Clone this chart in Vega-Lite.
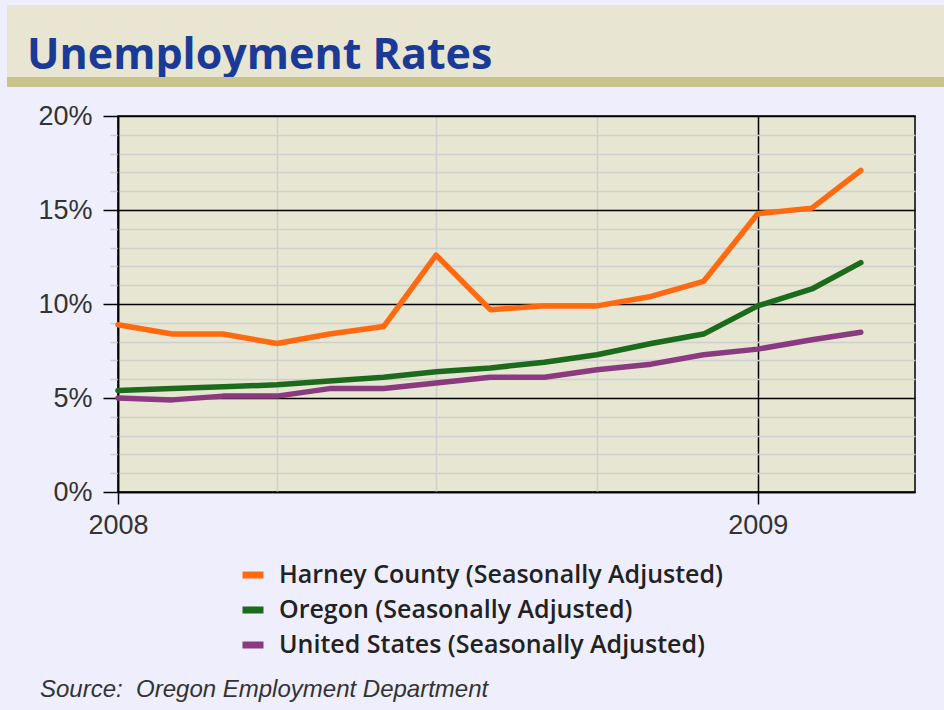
{
  "$schema": "https://vega.github.io/schema/vega-lite/v6.json",
  "background": "#eeeefc",
  "padding": {"left": 7, "top": 5, "right": 0, "bottom": 12},
  "title": {
    "text": "Source:\u00a0 Oregon Employment Department",
    "orient": "bottom",
    "anchor": "start",
    "frame": "bounds",
    "font": "Liberation Sans",
    "fontStyle": "italic",
    "fontWeight": "normal",
    "fontSize": 24,
    "color": "#333333",
    "dx": 33,
    "offset": 19
  },
  "bounds": "flush",
  "spacing": 0,
  "vconcat": [
    {
      "data": {"values": []},
      "mark": "point",
      "width": 937,
      "height": 72,
      "view": {"fill": "#e8e6d3", "stroke": null},
      "title": {
        "text": "Unemployment Rates",
        "anchor": "start",
        "frame": "group",
        "font": "Open Sans",
        "fontWeight": "bold",
        "fontSize": 43,
        "color": "#1a3a96",
        "baseline": "alphabetic",
        "offset": 0,
        "dx": 20,
        "dy": 107
      }
    },
    {
      "data": {"values": []},
      "mark": "point",
      "width": 937,
      "height": 10,
      "view": {"fill": "#c8c48c", "stroke": null}
    },
    {
      "data": {"values": []},
      "mark": "point",
      "width": 937,
      "height": 29,
      "view": {"fill": null, "stroke": null}
    },
    {
      "spacing": 0,
      "bounds": "flush",
      "hconcat": [
        {
          "data": {"values": []},
          "mark": "point",
          "width": 111,
          "height": 376,
          "view": {"fill": null, "stroke": null}
        },
        {
          "width": 797,
          "height": 376,
          "view": {"fill": "#e6e6d2", "stroke": "#000000", "strokeWidth": 1.5},
          "data": {
            "values": [
              {"date": "2008-01-01", "series": "United States (Seasonally Adjusted)", "rate": 5.0},
              {"date": "2008-02-01", "series": "United States (Seasonally Adjusted)", "rate": 4.9},
              {"date": "2008-03-01", "series": "United States (Seasonally Adjusted)", "rate": 5.1},
              {"date": "2008-04-01", "series": "United States (Seasonally Adjusted)", "rate": 5.1},
              {"date": "2008-05-01", "series": "United States (Seasonally Adjusted)", "rate": 5.5},
              {"date": "2008-06-01", "series": "United States (Seasonally Adjusted)", "rate": 5.5},
              {"date": "2008-07-01", "series": "United States (Seasonally Adjusted)", "rate": 5.8},
              {"date": "2008-08-01", "series": "United States (Seasonally Adjusted)", "rate": 6.1},
              {"date": "2008-09-01", "series": "United States (Seasonally Adjusted)", "rate": 6.1},
              {"date": "2008-10-01", "series": "United States (Seasonally Adjusted)", "rate": 6.5},
              {"date": "2008-11-01", "series": "United States (Seasonally Adjusted)", "rate": 6.8},
              {"date": "2008-12-01", "series": "United States (Seasonally Adjusted)", "rate": 7.3},
              {"date": "2009-01-01", "series": "United States (Seasonally Adjusted)", "rate": 7.6},
              {"date": "2009-02-01", "series": "United States (Seasonally Adjusted)", "rate": 8.1},
              {"date": "2009-03-01", "series": "United States (Seasonally Adjusted)", "rate": 8.5},
              {"date": "2008-01-01", "series": "Oregon (Seasonally Adjusted)", "rate": 5.4},
              {"date": "2008-02-01", "series": "Oregon (Seasonally Adjusted)", "rate": 5.5},
              {"date": "2008-03-01", "series": "Oregon (Seasonally Adjusted)", "rate": 5.6},
              {"date": "2008-04-01", "series": "Oregon (Seasonally Adjusted)", "rate": 5.7},
              {"date": "2008-05-01", "series": "Oregon (Seasonally Adjusted)", "rate": 5.9},
              {"date": "2008-06-01", "series": "Oregon (Seasonally Adjusted)", "rate": 6.1},
              {"date": "2008-07-01", "series": "Oregon (Seasonally Adjusted)", "rate": 6.4},
              {"date": "2008-08-01", "series": "Oregon (Seasonally Adjusted)", "rate": 6.6},
              {"date": "2008-09-01", "series": "Oregon (Seasonally Adjusted)", "rate": 6.9},
              {"date": "2008-10-01", "series": "Oregon (Seasonally Adjusted)", "rate": 7.3},
              {"date": "2008-11-01", "series": "Oregon (Seasonally Adjusted)", "rate": 7.9},
              {"date": "2008-12-01", "series": "Oregon (Seasonally Adjusted)", "rate": 8.4},
              {"date": "2009-01-01", "series": "Oregon (Seasonally Adjusted)", "rate": 9.9},
              {"date": "2009-02-01", "series": "Oregon (Seasonally Adjusted)", "rate": 10.8},
              {"date": "2009-03-01", "series": "Oregon (Seasonally Adjusted)", "rate": 12.2},
              {"date": "2008-01-01", "series": "Harney County (Seasonally Adjusted)", "rate": 8.9},
              {"date": "2008-02-01", "series": "Harney County (Seasonally Adjusted)", "rate": 8.4},
              {"date": "2008-03-01", "series": "Harney County (Seasonally Adjusted)", "rate": 8.4},
              {"date": "2008-04-01", "series": "Harney County (Seasonally Adjusted)", "rate": 7.9},
              {"date": "2008-05-01", "series": "Harney County (Seasonally Adjusted)", "rate": 8.4},
              {"date": "2008-06-01", "series": "Harney County (Seasonally Adjusted)", "rate": 8.8},
              {"date": "2008-07-01", "series": "Harney County (Seasonally Adjusted)", "rate": 12.6},
              {"date": "2008-08-01", "series": "Harney County (Seasonally Adjusted)", "rate": 9.7},
              {"date": "2008-09-01", "series": "Harney County (Seasonally Adjusted)", "rate": 9.9},
              {"date": "2008-10-01", "series": "Harney County (Seasonally Adjusted)", "rate": 9.9},
              {"date": "2008-11-01", "series": "Harney County (Seasonally Adjusted)", "rate": 10.4},
              {"date": "2008-12-01", "series": "Harney County (Seasonally Adjusted)", "rate": 11.2},
              {"date": "2009-01-01", "series": "Harney County (Seasonally Adjusted)", "rate": 14.8},
              {"date": "2009-02-01", "series": "Harney County (Seasonally Adjusted)", "rate": 15.1},
              {"date": "2009-03-01", "series": "Harney County (Seasonally Adjusted)", "rate": 17.1}
            ]
          },
          "mark": {"type": "line", "strokeWidth": 5.5, "strokeJoin": "round", "strokeCap": "round"},
          "encoding": {
            "x": {
              "field": "date",
              "type": "temporal",
              "scale": {
                "type": "utc",
                "domain": [
                  {"year": 2008, "month": 1, "date": 1, "utc": true},
                  {"year": 2009, "month": 4, "date": 1, "utc": true}
                ],
                "nice": false
              },
              "axis": {
                "title": null,
                "values": [
                  {"year": 2008, "month": 1, "date": 1, "utc": true},
                  {"year": 2008, "month": 4, "date": 1, "utc": true},
                  {"year": 2008, "month": 7, "date": 1, "utc": true},
                  {"year": 2008, "month": 10, "date": 1, "utc": true},
                  {"year": 2009, "month": 1, "date": 1, "utc": true}
                ],
                "labelExpr": "utcmonth(datum.value) == 0 ? utcFormat(datum.value, '%Y') : ''",
                "labelFont": "Liberation Sans",
                "labelFontSize": 27,
                "labelColor": "#333333",
                "labelPadding": 8,
                "labelFlush": false,
                "labelOverlap": false,
                "domainColor": "#000000",
                "domainWidth": 1.5,
                "tickSize": 12,
                "tickWidth": 1.5,
                "tickColor": {"condition": {"test": "utcmonth(datum.value) == 0", "value": "#000000"}, "value": "transparent"},
                "grid": true,
                "gridWidth": 1.5,
                "gridColor": {"condition": {"test": "utcmonth(datum.value) == 0", "value": "#000000"}, "value": "#cfcfcf"}
              }
            },
            "y": {
              "field": "rate",
              "type": "quantitative",
              "scale": {"domain": [0, 20], "nice": false},
              "axis": {
                "title": null,
                "values": [0, 1, 2, 3, 4, 5, 6, 7, 8, 9, 10, 11, 12, 13, 14, 15, 16, 17, 18, 19, 20],
                "labelExpr": "datum.value % 5 == 0 ? datum.value + '%' : ''",
                "labelFont": "Liberation Sans",
                "labelFontSize": 27,
                "labelColor": "#333333",
                "labelPadding": 11,
                "labelOverlap": false,
                "labelFlush": false,
                "domainColor": "#000000",
                "domainWidth": 1.5,
                "tickSize": {"condition": {"test": "datum.value % 5 == 0", "value": 15}, "value": 8},
                "tickWidth": 1.5,
                "tickColor": {"condition": {"test": "datum.value % 5 == 0", "value": "#000000"}, "value": "#cfcfcf"},
                "grid": true,
                "gridWidth": 1.5,
                "gridColor": {"condition": {"test": "datum.value % 5 == 0", "value": "#000000"}, "value": "#cfcfcf"}
              }
            },
            "color": {
              "field": "series",
              "type": "nominal",
              "scale": {
                "domain": ["Harney County (Seasonally Adjusted)", "Oregon (Seasonally Adjusted)", "United States (Seasonally Adjusted)"],
                "range": ["#ff6a10", "#1c6b1c", "#8a3b80"]
              },
              "legend": {
                "title": null,
                "orient": "none",
                "legendX": 232,
                "legendY": 556,
                "direction": "vertical",
                "symbolType": "stroke",
                "symbolSize": 441,
                "symbolStrokeWidth": 7,
                "labelFont": "Open Sans",
                "labelFontWeight": 600,
                "labelFontSize": 25,
                "labelColor": "#222222",
                "labelLimit": 700,
                "labelOffset": 12,
                "rowPadding": 7
              }
            }
          }
        }
      ]
    }
  ]
}
